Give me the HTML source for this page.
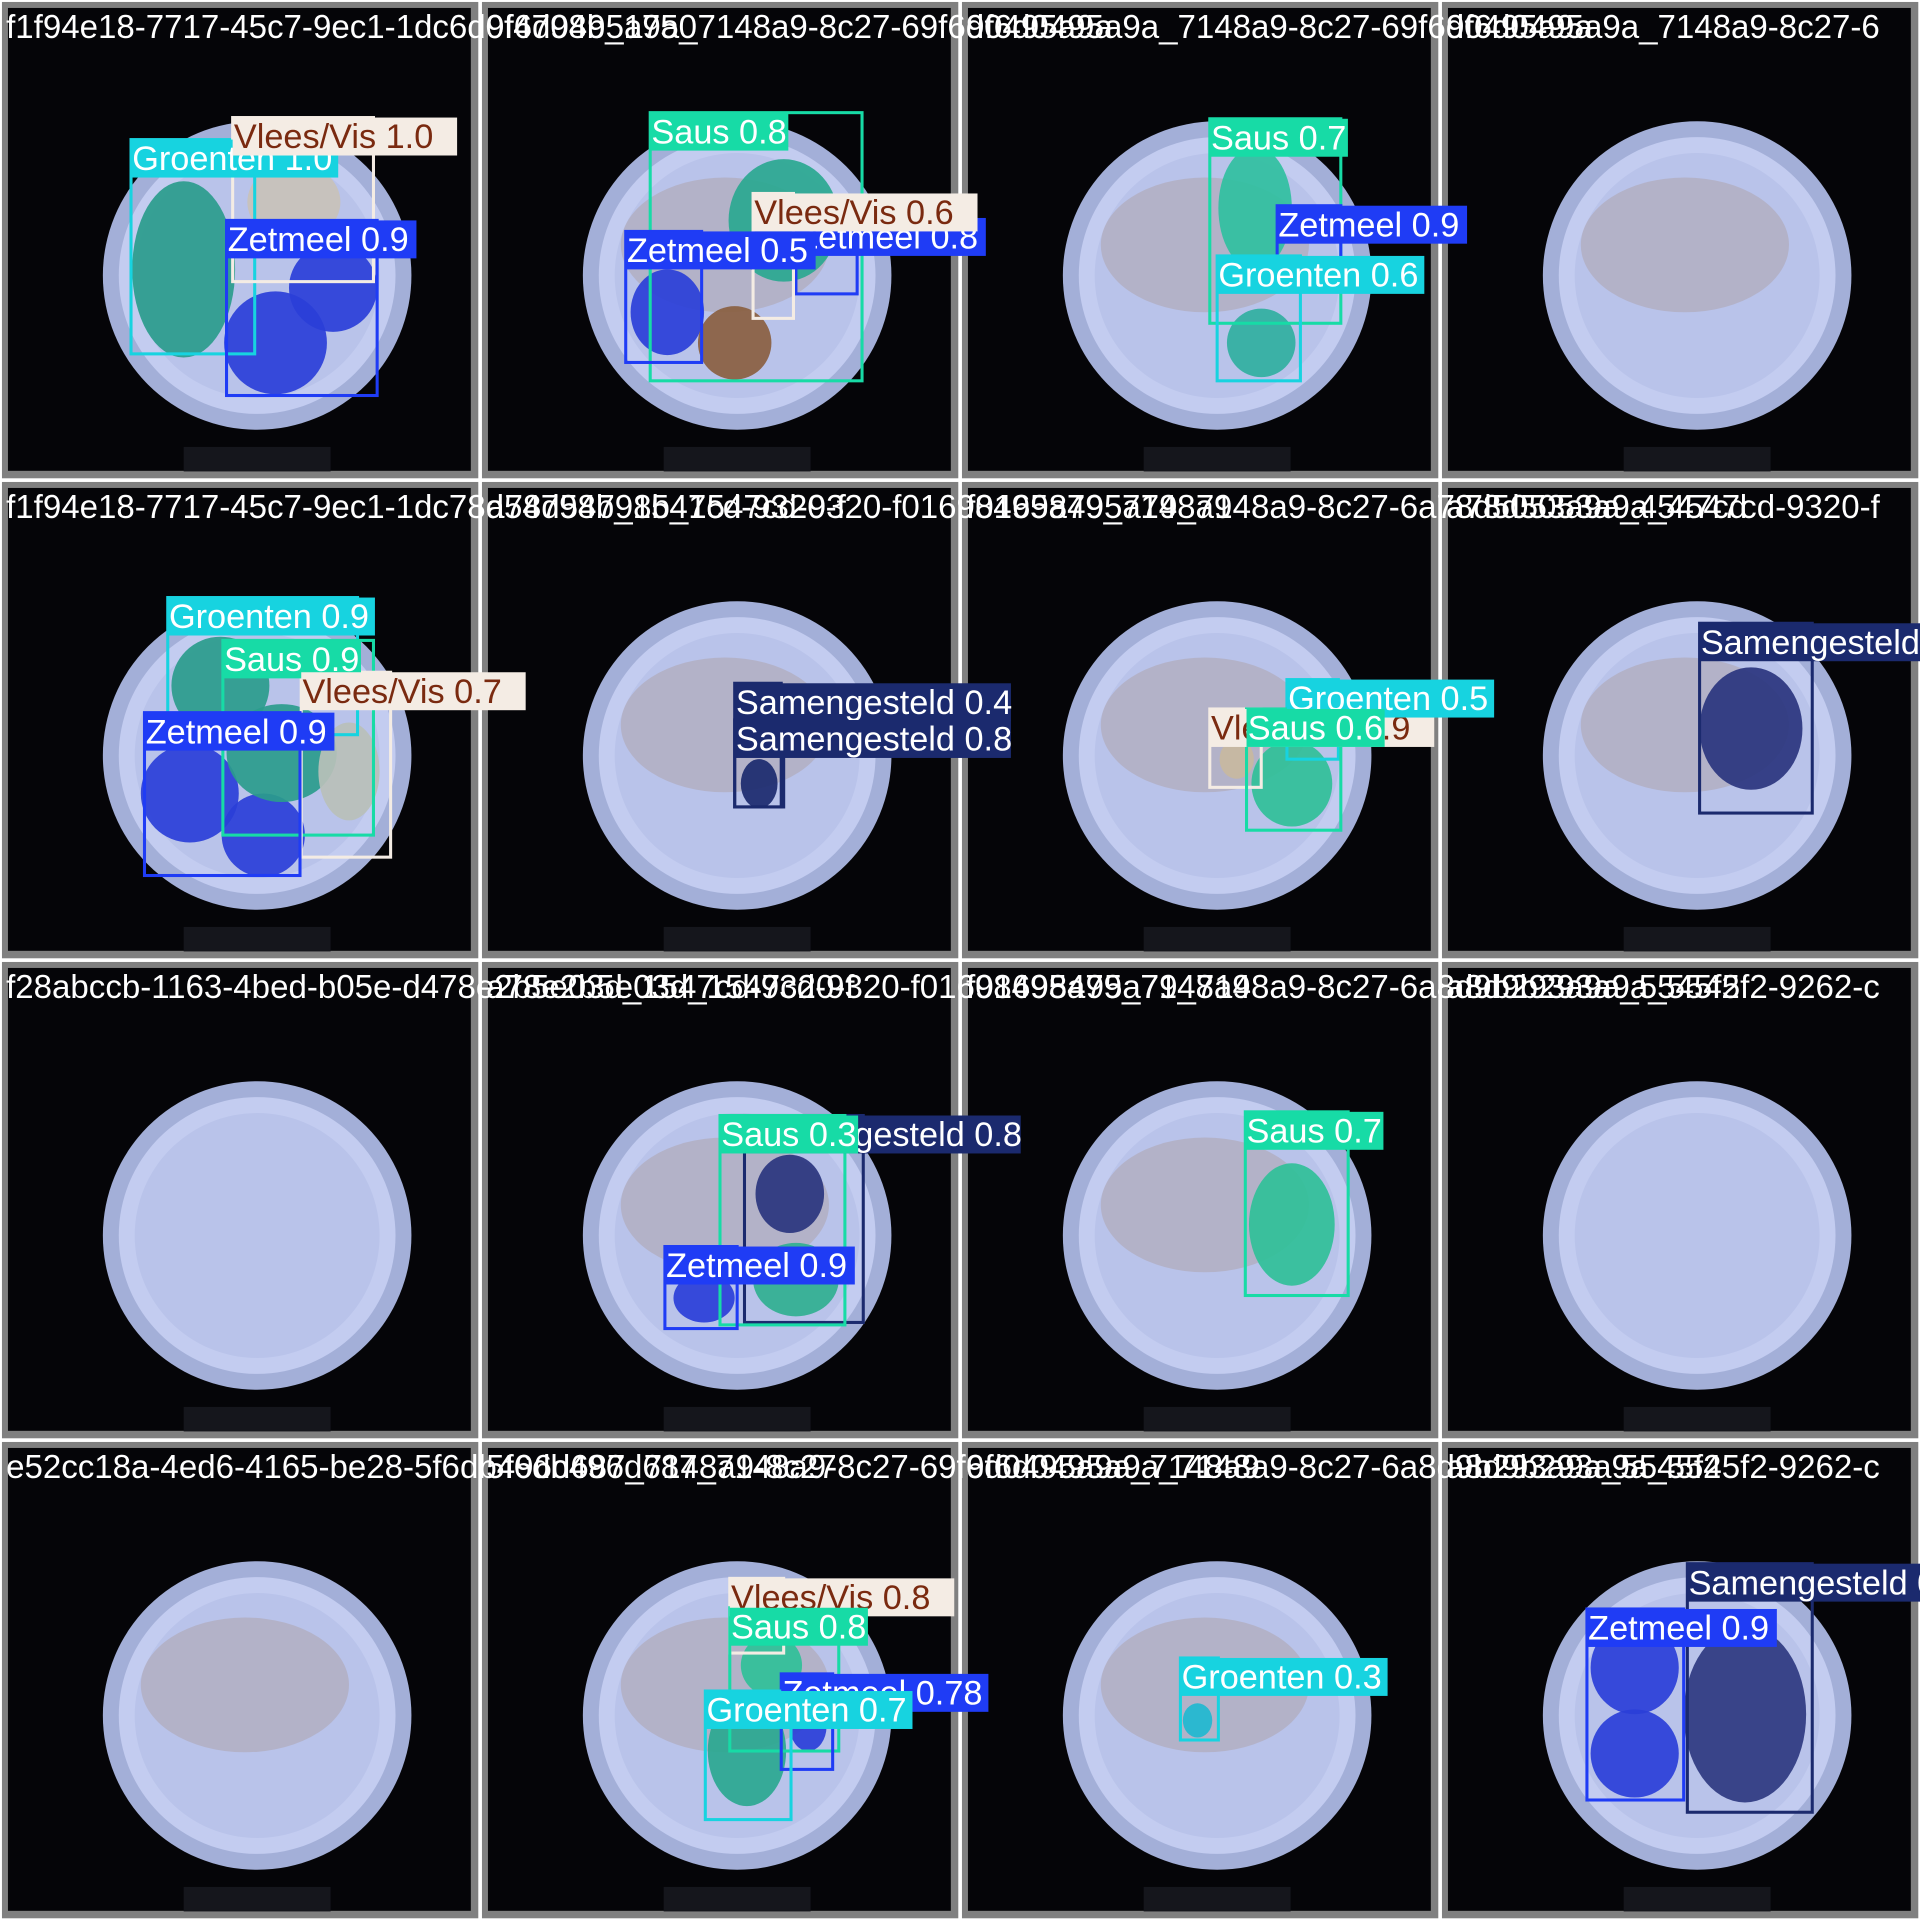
<!DOCTYPE html>
<html><head><meta charset="utf-8"><style>
html,body{margin:0;padding:0;background:#fff;}
svg{display:block;}
text{font-family:"Liberation Sans",sans-serif;}
</style></head><body>
<svg id="s" width="1920" height="1920" viewBox="0 0 1568 1568" xmlns="http://www.w3.org/2000/svg"></svg>
<script>
const titles=[
"f1f94e18-7717-45c7-9ec1-1dc6d0f4798b_1750","9f6d0495a9a_7148a9-8c27-69f6d0495a9a","9f6d0495a9a_7148a9-8c27-69f6d0495a9a","9f6d0495a9a_7148a9-8c27-6",
"f1f94e18-7717-45c7-9ec1-1dc78d54798b_1547cd-9320-f","a78d54798b_1547cd-9320-f01698495a79_7148a9","f01698495a79_7148a9-8c27-6a78d5053a9a_4547cd","a78d5053a9a_4547cd-9320-f",
"f28abccb-1163-4bed-b05e-d478e2b5e03d_1547cd-9320-f","a78e2b5e03d_1547cd-9320-f01698495a79_7148a9","f01698495a79_7148a9-8c27-6a8d9b293a9a_5545f2","a8d9b293a9a_5545f2-9262-c",
"e52cc18a-4ed6-4165-be28-5f6db496d687_7148a9-8c27","5f6db496d687_7148a9-8c27-69f6d0495a9a_7148a9","9f6d0495a9a_7148a9-8c27-6a8d9b293a9a_5545f2","a8d9b293a9a_5545f2-9262-c"];
const hasStains=[0,1,1,1, 0,1,1,1, 0,1,1,0, 1,1,1,0];
const COL={G:["#17d3e0","#fff"],S:["#17dba6","#fff"],Z:["#1f3cf5","#fff"],V:["#f4ece4","#7a2a10"],M:["#1b2a6e","#fff"]};
const masks=[[150,220,42,72,"#2a9c8c"],[240,165,38,32,"#c8c2b8"],[225,280,42,42,"#2a3fd8"],[272,235,36,36,"#2a3fd8"],
[640,180,45,50,"#2aa890"],[545,255,30,35,"#2a3fd8"],[600,280,30,30,"#8a6040"],
[1025,170,30,50,"#30c0a0"],[1030,280,28,28,"#30b0a0"],
[180,560,40,40,"#2a9c8c"],[155,648,40,40,"#2a3fd8"],[215,682,34,34,"#2a3fd8"],[230,615,45,40,"#2a9c8c"],[285,630,25,40,"#b8c0b8"],
[620,640,15,20,"#1b2a6e"],[1010,620,14,16,"#c8b8a0"],[1055,640,33,35,"#30c098"],
[1430,595,42,50,"#2a357e"],
[645,975,28,32,"#2a357e"],[650,1045,35,30,"#30b090"],[575,1060,25,20,"#2a3fd8"],
[1055,1000,35,50,"#30c098"],
[610,1430,32,45,"#2aa890"],[630,1360,25,25,"#30c098"],[660,1410,15,20,"#2a3fd8"],
[978,1405,12,14,"#20b8d0"],
[1335,1362,36,38,"#2a3fd8"],[1335,1432,36,36,"#2a3fd8"],[1425,1400,50,72,"#2e3a80"]];
const boxes=[
[107,114,208,289,"G","Groenten 1.0"],[190,96,305,230,"V","Vlees/Vis 1.0"],[185,180,308,323,"Z","Zetmeel 0.9"],
[531,92,704,311,"S","Saus 0.8"],[650,178,700,240,"Z","Zetmeel 0.8"],[615,158,648,260,"V","Vlees/Vis 0.6"],[511,189,573,296,"Z","Zetmeel 0.5"],
[988,97,1095,264,"S","Saus 0.7"],[1043,168,1095,230,"Z","Zetmeel 0.9"],[994,209,1062,311,"G","Groenten 0.6"],
[137,488,292,600,"G","Groenten 0.9"],[182,523,305,682,"S","Saus 0.9"],[246,549,319,700,"V","Vlees/Vis 0.7"],[118,582,245,715,"Z","Zetmeel 0.9"],
[600,558,638,659,"M","Samengesteld 0.4"],[600,588,640,659,"M","Samengesteld 0.8"],
[988,579,1030,643,"V","Vlees/Vis 0.9"],[1051,555,1093,620,"G","Groenten 0.5"],[1018,579,1095,678,"S","Saus 0.6"],
[1388,509,1480,664,"M","Samengesteld 0.9"],
[608,911,705,1080,"M","Samengesteld 0.8"],[588,911,690,1082,"S","Saus 0.3"],[543,1018,602,1085,"Z","Zetmeel 0.9"],
[1017,908,1101,1058,"S","Saus 0.7"],
[596,1289,640,1350,"V","Vlees/Vis 0.8"],[596,1313,685,1430,"S","Saus 0.8"],[638,1367,680,1445,"Z","Zetmeel 0.78"],[576,1381,646,1486,"G","Groenten 0.7"],
[964,1354,995,1421,"G","Groenten 0.3"],
[1378,1277,1480,1480,"M","Samengesteld 0.9"],[1296,1314,1375,1470,"Z","Zetmeel 0.9"]];
const NS="http://www.w3.org/2000/svg",s=document.getElementById('s');
function mk(t,a,p){const e=document.createElementNS(NS,t);for(const k in a)e.setAttribute(k,a[k]);(p||s).appendChild(e);return e;}
for(let i=0;i<16;i++){
  const c=i%4,r=Math.floor(i/4),x=c*392,y=r*392;
  const g=mk('g',{});
  
  
  mk('rect',{x:x+1.6,y:y+1.6,width:389,height:389,fill:'#808080'},g);
  mk('rect',{x:x+6.5,y:y+6.5,width:378,height:378,fill:'#050508'},g);
  mk('rect',{x:x+150,y:y+365,width:120,height:20,fill:'#15161c'},g);
  const cx=x+210,cy=y+225;
  const p=mk('circle',{cx:cx,cy:cy,r:126,fill:'#a3afd8'},g);
  
  
  mk('circle',{cx:cx,cy:cy,r:113,fill:'#c3ccf0'},g);
  mk('circle',{cx:cx,cy:cy,r:100,fill:'#b9c3ea'},g);
  if(hasStains[i]){mk('ellipse',{cx:cx-10,cy:cy-25,rx:85,ry:55,fill:'#a07850',opacity:0.22},g);}
}
for(const m of masks){const e=mk('ellipse',{cx:m[0],cy:m[1],rx:m[2],ry:m[3],fill:m[4],opacity:0.92});
  
  }
for(const b of boxes){const c=COL[b[4]];
  const e=mk('rect',{x:b[0],y:b[1],width:b[2]-b[0],height:b[3]-b[1],fill:'none',stroke:c[0],'stroke-width':2.5});
  
  }
for(const b of boxes){const c=COL[b[4]];
  const w=b[5].length*14.1;
  const r=mk('rect',{x:b[0],y:b[1],width:w,height:31,fill:c[0]});
  
  
  const t=mk('text',{x:b[0]+1,y:b[1]+25,'font-size':28,fill:c[1]});
  t.textContent=b[5];
  
  }
for(let i=0;i<16;i++){const c=i%4,r=Math.floor(i/4);
  const t=mk('text',{x:c*392+5,y:r*392+31,'font-size':27,fill:'#fff'});
  t.textContent=titles[i];
  
  }
</script>
</body></html>
